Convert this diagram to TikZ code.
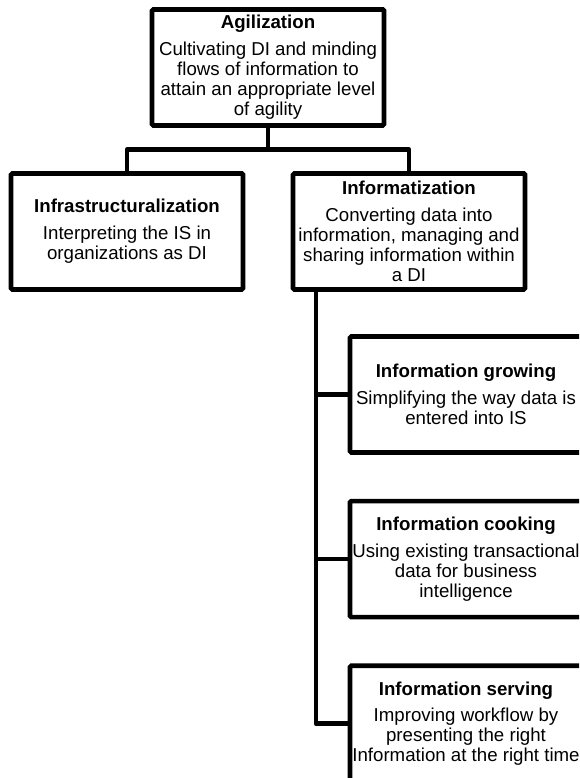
\documentclass[tikz,border=0pt]{standalone}
\usepackage{fontspec}
\setmainfont{Liberation Sans}
\usetikzlibrary{positioning}

\begin{document}
\begin{tikzpicture}[
level/.style = {shape = rectangle, draw = black, fill = white, line width = 3.5pt, rounded corners = 1pt, minimum width = 174pt, minimum height = 87pt, inner sep = 0pt, outer sep = 0pt, align = center, font = \fontsize{14}{15}\selectfont},
branch/.style = {draw = black, line width = 3.5pt, line join = round},
]
\useasboundingbox (0, 0) rectangle (434.25pt, -583.5pt);
\clip (0, 0) rectangle (434.25pt, -583.5pt);

\node[level] (agil) at (201pt, -50.6pt) {\textbf{Agilization}\\[5pt]Cultivating DI and minding\\flows of information to\\attain an appropriate level\\of agility};
\node[level] (infra) [below left = 36pt and 18.75pt of agil.south] {\textbf{Infrastructuralization}\\[5pt]Interpreting the IS in\\organizations as DI};
\node[level] (inform) [below right = 36pt and 18.75pt of agil.south] {\textbf{Informatization}\\[5pt]Converting data into\\information, managing and\\sharing information within\\a DI};

\node[level] (grow) [below right = 35.25pt and 42.75pt of inform.south west] {\textbf{Information growing}\\[5pt]Simplifying the way data is\\entered into IS};
\node[level] (cook) [below = 36.5pt of grow] {\textbf{Information cooking}\\[5pt]Using existing transactional\\data for business\\intelligence};
\node[level] (serve) [below = 36.5pt of cook] {\textbf{Information serving}\\[5pt]Improving workflow by\\presenting the right\\Information at the right time};

\path[branch] (agil.south) -- ++(0, -18pt) -| (infra.north);
\path[branch] (agil.south) -- ++(0, -18pt) -| (inform.north);

\coordinate (trunk) at ([xshift = 17.25pt]inform.south west);
\path[branch] (trunk) |- (grow.west);
\path[branch] (trunk) |- (cook.west);
\path[branch] (trunk) |- (serve.west);
\end{tikzpicture}
\end{document}
